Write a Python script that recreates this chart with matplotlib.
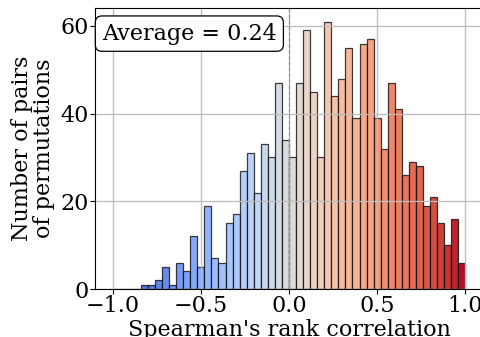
import matplotlib
matplotlib.use('Agg')
from matplotlib import pyplot as plt
import numpy as np

# histogram of Spearman's rank correlation, 50 bins over [-1, 1]
BIN_EDGES = np.linspace(-1.0, 1.0, 51)
COUNTS = [0, 0, 0, 0, 1, 1, 2, 5, 1, 6,
          4, 12, 5, 19, 7, 6, 15, 17, 27, 31,
          22, 33, 30, 47, 34, 30, 47, 59, 45, 30,
          61, 44, 48, 55, 39, 56, 57, 39, 32, 47,
          41, 26, 29, 28, 19, 21, 15, 10, 16, 6]
AVERAGE = 0.24


def plot_histogram(ax: plt.Axes):
    '''Coloured histogram of the correlations'''
    centers = (BIN_EDGES[:-1] + BIN_EDGES[1:]) / 2
    _, _, bars = ax.hist(centers, bins=BIN_EDGES, weights=COUNTS,
                         edgecolor='black', linewidth=0.9)
    cmap = plt.get_cmap('coolwarm')
    for bar, c in zip(bars, centers):
        bar.set_facecolor(cmap((c + 1) / 2))
        bar.set_edgecolor((0, 0, 0, 0.75))

    ax.axvline(0, color='gray', linestyle='--', linewidth=0.8, alpha=0.8)
    ax.grid(True, color='#bbbbbb', linewidth=0.9)
    ax.set_xlim(-1.1, 1.1)
    ax.set_ylim(0, 64.1)
    ax.set_xticks([-1.0, -0.5, 0.0, 0.5, 1.0])
    ax.set_yticks([0, 20, 40, 60])
    ax.tick_params(labelsize=16, length=3.5, pad=1)
    ax.set_xlabel("Spearman's rank correlation", fontsize=16, labelpad=1)
    ax.set_ylabel('Number of pairs\nof permutations', fontsize=16, labelpad=4,
                  linespacing=1.0)
    ax.text(0.018, 0.948, f'Average = {AVERAGE:.2f}', transform=ax.transAxes,
            fontsize=16, ha='left', va='top',
            bbox=dict(boxstyle='round,pad=0.3', facecolor='white',
                      edgecolor='black', linewidth=0.9))


def main():
    plt.rcParams['font.family'] = 'DejaVu Serif'
    plt.rcParams['mathtext.fontset'] = 'dejavuserif'
    fig = plt.figure(figsize=(4.81, 3.37), dpi=100)
    ax = fig.add_axes([95 / 481, 48 / 337, 388 / 481, 281 / 337])
    plot_histogram(ax)
    fig.savefig('out.png', dpi=100)


if __name__ == '__main__':
    main()
